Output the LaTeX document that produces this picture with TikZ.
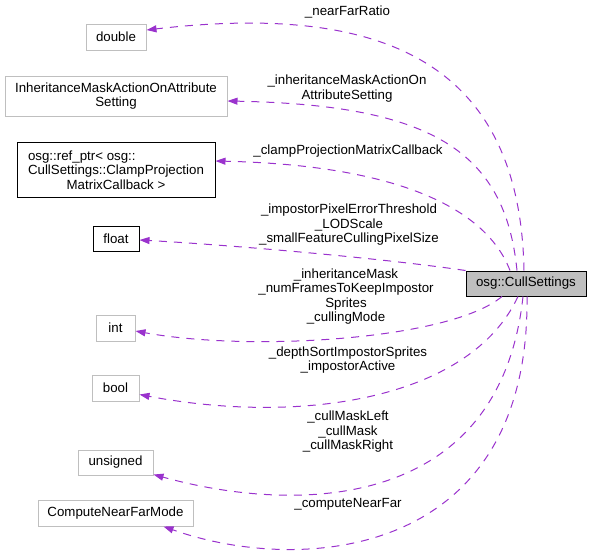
\documentclass[tikz,border=0pt]{standalone}
\usepackage{fontspec}
\setmainfont{Liberation Sans}
\usetikzlibrary{arrows.meta}

\definecolor{member}{HTML}{9A32CD}
\definecolor{greyline}{HTML}{BFBFBF}

\begin{document}
\begin{tikzpicture}[x=1pt, y=-1pt,
  every node/.style={font=\fontsize{13.3}{14.5}\selectfont, inner sep=0pt},
  extbox/.style={draw=greyline, line width=1pt, align=center},
  docbox/.style={draw=black, line width=1pt, align=center},
  mainbox/.style={draw=black, fill=greyline, line width=1pt},
  lbl/.style={align=center},
  memberedge/.style={member, line width=1pt, dash pattern=on 8pt off 7pt,
    -{Triangle[length=10pt, width=7pt]}}]

\useasboundingbox ( 0, 0 ) rectangle ( 595, 554 );

% Member types
\node (double) at ( 116, 37 ) [extbox, minimum width=60pt, minimum height=26pt] {double};
\node (inherit) at ( 116, 96 ) [extbox, minimum width=222pt, minimum height=40pt] {InheritanceMaskActionOnAttribute\\Setting};
\node (refptr) at ( 116, 169.5 ) [docbox, minimum width=198pt, minimum height=55pt] {\begin{tabular}[b]{@{}l@{}}osg::ref\_ptr< osg::\\CullSettings::ClampProjection\end{tabular}\\MatrixCallback >};
\node (float) at ( 116, 238.5 ) [docbox, minimum width=46pt, minimum height=25pt] {float};
\node (int) at ( 115.5, 328 ) [extbox, minimum width=39pt, minimum height=26pt] {int};
\node (bool) at ( 115.5, 388 ) [extbox, minimum width=47pt, minimum height=26pt] {bool};
\node (unsigned) at ( 115.5, 462.5 ) [extbox, minimum width=75pt, minimum height=25pt] {unsigned};
\node (nearfarmode) at ( 115.5, 513 ) [extbox, minimum width=155pt, minimum height=26pt] {ComputeNearFarMode};

% Class
\node (cull) at ( 526, 283.5 ) [mainbox, minimum width=120pt, minimum height=25pt] {osg::CullSettings};

% Member edges
\draw [memberedge] ([xshift=-2pt]cull.north) .. controls ( 520, 60 ) and ( 380, 3 ) .. ([yshift=7pt]double.east);
\draw [memberedge] ([xshift=-9pt]cull.north) .. controls ( 505, 150 ) and ( 430, 105 ) .. ([yshift=-5pt]inherit.east);
\draw [memberedge] ([xshift=-16pt]cull.north) .. controls ( 485, 205 ) and ( 390, 165 ) .. ([yshift=8.5pt]refptr.east);
\draw [memberedge] (cull.north west) .. controls ( 380, 258 ) and ( 230, 245 ) .. ([yshift=-1.5pt]float.east);
\draw [memberedge] ([xshift=-24pt]cull.south) .. controls ( 450, 340 ) and ( 250, 352 ) .. ([yshift=-3pt]int.east);
\draw [memberedge] ([xshift=-8pt]cull.south) .. controls ( 470, 400 ) and ( 300, 425 ) .. ([yshift=-6.5pt]bool.east);
\draw [memberedge] ([xshift=-3pt]cull.south) .. controls ( 500, 510 ) and ( 300, 515 ) .. ([yshift=1pt]unsigned.south east);
\draw [memberedge] ([xshift=1pt]cull.south) .. controls ( 530, 560 ) and ( 300, 575 ) .. ([xshift=48pt]nearfarmode.south);

% Labels
\node (lnearfar) at ( 347.5, 12 ) [lbl] {\_nearFarRatio};
\node (linherit) at ( 347, 88.5 ) [lbl] {\_inheritanceMaskActionOn\\AttributeSetting};
\node (lclamp) at ( 348, 151.5 ) [lbl] {\_clampProjectionMatrixCallback};
\node (lfloat) at ( 349, 225 ) [lbl] {\_impostorPixelErrorThreshold\\\_LODScale\\\_smallFeatureCullingPixelSize};
\node (lint) at ( 346, 296.5 ) [lbl] {\_inheritanceMask\\\_numFramesToKeepImpostor\\Sprites\\\_cullingMode};
\node (lbool) at ( 348, 360 ) [lbl] {\_depthSortImpostorSprites\\\_impostorActive};
\node (lunsigned) at ( 348, 432 ) [lbl] {\_cullMaskLeft\\\_cullMask\\\_cullMaskRight};
\node (lnearfarmode) at ( 348, 504 ) [lbl] {\_computeNearFar};

\end{tikzpicture}
\end{document}
